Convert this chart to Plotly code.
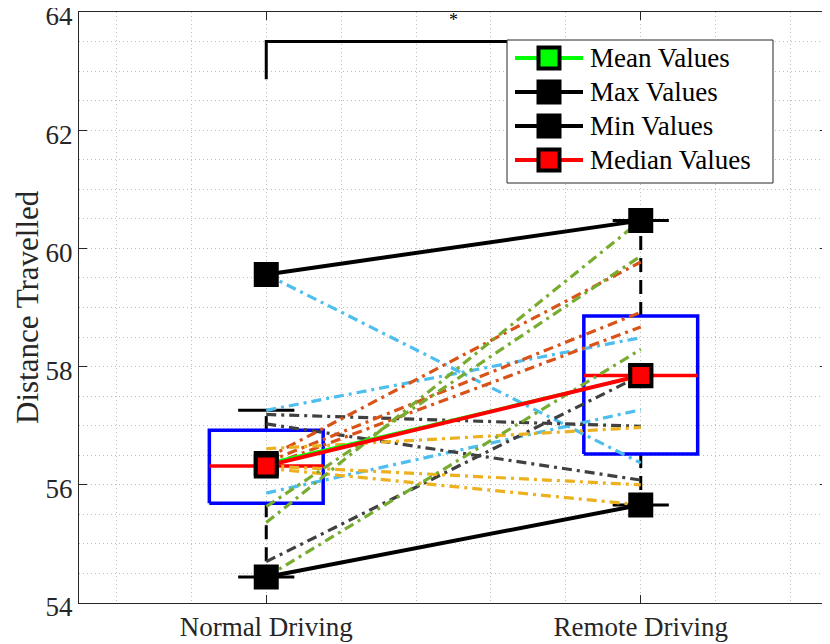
import numpy as np
import plotly.graph_objects as go

# ---------------- data ----------------
conditions = ["Normal Driving", "Remote Driving"]
cond_x = [1, 2]

# per-participant values: Normal Driving -> Remote Driving
nd_values = [59.56, 57.26, 55.86, 57.19, 57.03, 54.70, 56.45, 56.38, 56.31,
             56.61, 56.32, 56.28, 55.36, 55.63, 54.44]
rd_values = [56.37, 58.49, 57.27, 56.99, 56.08, 57.85, 59.77, 58.92, 58.67,
             56.97, 56.00, 55.66, 60.47, 59.87, 58.29]
participant_colors = ["#4DBEEE"] * 3 + ["#404040"] * 3 + ["#D95319"] * 3 + \
                     ["#EDB120"] * 3 + ["#77AC30"] * 3

# significance bracket
bracket_y_top = 63.5
bracket_y_bottom = 62.86
star_text = "*"

y_ticks = [54, 56, 58, 60, 62, 64]
y_title = "Distance Travelled"

legend_labels = ["Mean Values", "Max Values", "Min Values", "Median Values"]
legend_line_colors = ["#00FF00", "black", "black", "#FF0000"]
legend_fill_colors = ["#00FF00", "black", "black", "#FF0000"]

# ---------------- derived statistics ----------------
data = np.array([nd_values, rd_values])
means = data.mean(axis=1)
medians = np.median(data, axis=1)
maxs = data.max(axis=1)
mins = data.min(axis=1)
q1 = np.percentile(data, 25, axis=1, method="hazen")
q3 = np.percentile(data, 75, axis=1, method="hazen")

FONT = "Liberation Serif"
BOX_HW = 0.152
CAP_HW = 0.075

fig = go.Figure()

# ---------------- box plots ----------------
for i, cx in enumerate(cond_x):
    iqr = q3[i] - q1[i]
    vals = data[i]
    up_w = vals[vals <= q3[i] + 1.5 * iqr].max()
    lo_w = vals[vals >= q1[i] - 1.5 * iqr].min()
    for a, b in ((q3[i], up_w), (q1[i], lo_w)):
        fig.add_trace(go.Scatter(x=[cx, cx], y=[a, b], mode="lines",
                                 line=dict(color="black", width=3, dash="14px,8px"),
                                 showlegend=False, hoverinfo="skip"))
    for w in (up_w, lo_w):
        fig.add_trace(go.Scatter(x=[cx - CAP_HW, cx + CAP_HW], y=[w, w], mode="lines",
                                 line=dict(color="black", width=3),
                                 showlegend=False, hoverinfo="skip"))
    fig.add_trace(go.Scatter(x=[cx - BOX_HW, cx + BOX_HW, cx + BOX_HW, cx - BOX_HW, cx - BOX_HW],
                             y=[q1[i], q1[i], q3[i], q3[i], q1[i]], mode="lines",
                             line=dict(color="#0000FF", width=3.5),
                             showlegend=False, hoverinfo="skip"))
    fig.add_trace(go.Scatter(x=[cx - BOX_HW, cx + BOX_HW], y=[medians[i], medians[i]],
                             mode="lines", line=dict(color="#FF0000", width=3.5),
                             showlegend=False, hoverinfo="skip"))

# ---------------- participant lines ----------------
for nd, rd, col in zip(nd_values, rd_values, participant_colors):
    fig.add_trace(go.Scatter(x=cond_x, y=[nd, rd], mode="lines",
                             line=dict(color=col, width=3.2, dash="10px,5px,3px,5px"),
                             showlegend=False, hoverinfo="skip"))

# ---------------- summary lines ----------------
summary = [(means, "#00FF00", 3), (maxs, "black", 4), (mins, "black", 4), (medians, "#FF0000", 4)]
for (vals, col, lw), name in zip(summary, legend_labels):
    fig.add_trace(go.Scatter(x=cond_x, y=vals, mode="lines+markers", name=name,
                             line=dict(color=col, width=lw),
                             marker=dict(symbol="square", size=21, color=col,
                                         line=dict(color="black", width=4)),
                             showlegend=False))

# ---------------- significance bracket ----------------
fig.add_trace(go.Scatter(x=[cond_x[0], cond_x[0], cond_x[1], cond_x[1]],
                         y=[bracket_y_bottom, bracket_y_top, bracket_y_top, bracket_y_bottom],
                         mode="lines", line=dict(color="black", width=3),
                         showlegend=False, hoverinfo="skip"))
fig.add_annotation(x=(cond_x[0] + cond_x[1]) / 2, y=bracket_y_top, yshift=22, text=star_text,
                   showarrow=False, font=dict(family=FONT, size=18, color="black"))

# ---------------- legend & title placed in paper coordinates ----------------
PX_L, PX_R, PX_T, PX_B = 79, 828, 12, 603
def px_x(p):
    return (p - PX_L) / (PX_R - PX_L)
def px_y(p):
    return (PX_B - p) / (PX_B - PX_T)

fig.add_annotation(xref="paper", yref="paper", x=px_x(27), y=px_y(307),
                   xanchor="center", yanchor="middle", textangle=-90, text=y_title,
                   showarrow=False, font=dict(family=FONT, size=31, color="#262626"))

fig.add_shape(type="rect", xref="paper", yref="paper",
              x0=px_x(507), x1=px_x(773), y0=px_y(183), y1=px_y(40),
              fillcolor="white", line=dict(color="#262626", width=1), layer="above")
for k, (lab, lc, fc) in enumerate(zip(legend_labels, legend_line_colors, legend_fill_colors)):
    yc = px_y(58 + 34 * k)
    fig.add_shape(type="line", xref="paper", yref="paper",
                  x0=px_x(515), x1=px_x(583), y0=yc, y1=yc,
                  line=dict(color=lc, width=4), layer="above")
    fig.add_shape(type="rect", xref="paper", yref="paper",
                  xsizemode="pixel", ysizemode="pixel",
                  xanchor=px_x(549), yanchor=yc, x0=-10.5, x1=10.5, y0=-10.5, y1=10.5,
                  fillcolor=fc, line=dict(color="black", width=4), layer="above")
    fig.add_annotation(xref="paper", yref="paper", x=px_x(588), y=yc,
                       xanchor="left", yanchor="middle", text=lab, showarrow=False,
                       font=dict(family=FONT, size=27, color="black"))

grid_col = "#bdbdbd"
grid_dash = "1px,3px"
# the page body adds an 8px offset, so the figure is sized to fill the window from there
fig.update_layout(
    width=822, height=636,
    margin=dict(l=71, r=2, t=4, b=41),
    paper_bgcolor="white", plot_bgcolor="white",
    font=dict(family=FONT, size=24, color="#262626"),
    showlegend=False,
    xaxis=dict(range=[0.5, 2.5], tickmode="array", tickvals=cond_x, ticktext=conditions,
               showgrid=True, gridcolor=grid_col, griddash=grid_dash, gridwidth=1,
               zeroline=False, showline=True, linecolor="#262626", linewidth=1,
               mirror="ticks", ticks="inside", ticklen=8, tickcolor="#262626",
               tickfont=dict(family=FONT, size=27, color="#262626"),
               minor=dict(dtick=0.2, tick0=0, showgrid=True, gridcolor=grid_col,
                          griddash=grid_dash, gridwidth=1, ticks=""),
               ticklabeloverflow="allow", automargin=False),
    yaxis=dict(range=[54, 64], tickmode="array", tickvals=y_ticks,
               showgrid=True, gridcolor=grid_col, griddash=grid_dash, gridwidth=1,
               zeroline=False, showline=True, linecolor="#262626", linewidth=1,
               mirror="ticks", ticks="inside", ticklen=8, tickcolor="#262626",
               tickfont=dict(family=FONT, size=27, color="#262626"),
               ticklabelshift=4,
               minor=dict(dtick=0.5, tick0=0, showgrid=True, gridcolor=grid_col,
                          griddash=grid_dash, gridwidth=1, ticks=""),
               ticklabeloverflow="allow", automargin=False),
)

fig.write_html("out.html")
